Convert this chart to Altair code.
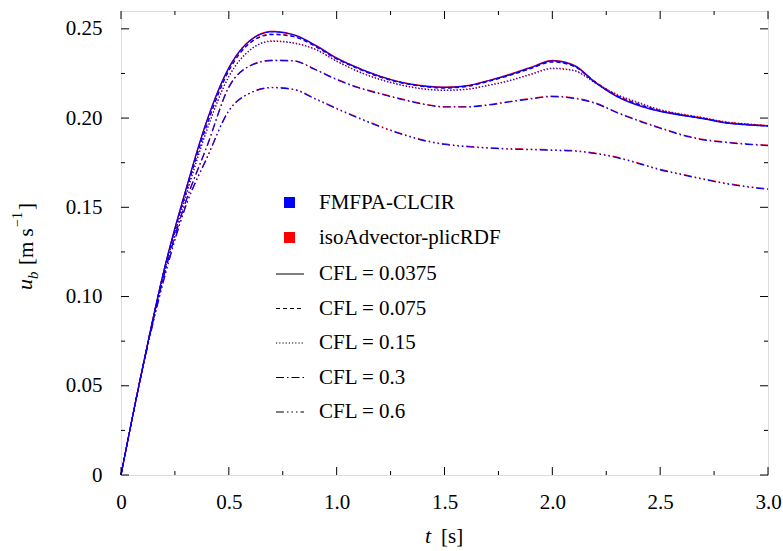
import altair as alt
import pandas as pd

# ---------------- data ----------------
t_vals = [0.0, 0.1, 0.2, 0.3, 0.4, 0.5, 0.6, 0.7, 0.8, 0.9, 1.0,
          1.1, 1.2, 1.3, 1.4, 1.5, 1.6, 1.7, 1.8, 1.9, 2.0,
          2.1, 2.2, 2.3, 2.4, 2.5, 2.6, 2.7, 2.8, 2.9, 3.0]

methods = ["FMFPA-CLCIR", "isoAdvector-plicRDF"]
cfl_labels = ["CFL = 0.0375", "CFL = 0.075", "CFL = 0.15", "CFL = 0.3", "CFL = 0.6"]

fmfpa_0375 = [0, 0.0601, 0.1150, 0.1595, 0.1990, 0.2280, 0.2435, 0.2483, 0.2466, 0.2408, 0.2335,
              0.2280, 0.2234, 0.2200, 0.2180, 0.2172, 0.2180, 0.2208, 0.2242, 0.2282, 0.2320,
              0.2294, 0.2198, 0.2120, 0.2070, 0.2037, 0.2015, 0.1996, 0.1973, 0.1962, 0.1955]
fmfpa_075 = [0, 0.0600, 0.1145, 0.1580, 0.1968, 0.2265, 0.2422, 0.2468, 0.2456, 0.2402, 0.2331,
             0.2276, 0.2230, 0.2197, 0.2177, 0.2168, 0.2176, 0.2204, 0.2238, 0.2277, 0.2314,
             0.2290, 0.2200, 0.2124, 0.2076, 0.2040, 0.2017, 0.1997, 0.1975, 0.1963, 0.1956]
fmfpa_015 = [0, 0.0598, 0.1135, 0.1560, 0.1938, 0.2232, 0.2382, 0.2430, 0.2420, 0.2385, 0.2318,
             0.2260, 0.2216, 0.2184, 0.2163, 0.2155, 0.2160, 0.2182, 0.2208, 0.2244, 0.2277,
             0.2265, 0.2196, 0.2130, 0.2085, 0.2045, 0.2020, 0.2000, 0.1977, 0.1965, 0.1957]
fmfpa_03 = [0, 0.0597, 0.1120, 0.1530, 0.1845, 0.2172, 0.2293, 0.2322, 0.2320, 0.2272, 0.2215,
            0.2170, 0.2136, 0.2105, 0.2078, 0.2062, 0.2062, 0.2072, 0.2090, 0.2107, 0.2120,
            0.2110, 0.2082, 0.2030, 0.1984, 0.1943, 0.1905, 0.1878, 0.1864, 0.1853, 0.1846]
fmfpa_06 = [0, 0.0595, 0.1100, 0.1505, 0.1780, 0.2040, 0.2140, 0.2170, 0.2160, 0.2107, 0.2052,
            0.2000, 0.1952, 0.1910, 0.1875, 0.1852, 0.1840, 0.1832, 0.1826, 0.1823, 0.1819,
            0.1815, 0.1801, 0.1778, 0.1745, 0.1710, 0.1683, 0.1657, 0.1633, 0.1615, 0.1600]

iso_0375 = [0, 0.0602, 0.1152, 0.1597, 0.1993, 0.2283, 0.2437, 0.2486, 0.2468, 0.2410, 0.2338,
            0.2282, 0.2236, 0.2202, 0.2182, 0.2174, 0.2182, 0.2210, 0.2245, 0.2285, 0.2323,
            0.2297, 0.2201, 0.2123, 0.2073, 0.2040, 0.2018, 0.1999, 0.1976, 0.1965, 0.1957]
iso_075 = [0, 0.0601, 0.1147, 0.1582, 0.1970, 0.2267, 0.2424, 0.2471, 0.2458, 0.2404, 0.2333,
           0.2278, 0.2232, 0.2199, 0.2179, 0.2170, 0.2178, 0.2206, 0.2241, 0.2280, 0.2317,
           0.2293, 0.2203, 0.2127, 0.2079, 0.2043, 0.2020, 0.2000, 0.1978, 0.1966, 0.1958]
iso_015 = [0, 0.0599, 0.1137, 0.1562, 0.1940, 0.2234, 0.2384, 0.2433, 0.2422, 0.2387, 0.2320,
           0.2262, 0.2218, 0.2186, 0.2165, 0.2157, 0.2162, 0.2184, 0.2211, 0.2247, 0.2280,
           0.2268, 0.2199, 0.2133, 0.2088, 0.2048, 0.2023, 0.2003, 0.1980, 0.1968, 0.1959]
iso_03 = [0, 0.0598, 0.1122, 0.1532, 0.1848, 0.2175, 0.2295, 0.2325, 0.2322, 0.2274, 0.2218,
          0.2173, 0.2139, 0.2108, 0.2080, 0.2064, 0.2064, 0.2075, 0.2093, 0.2110, 0.2123,
          0.2113, 0.2085, 0.2033, 0.1987, 0.1946, 0.1908, 0.1881, 0.1867, 0.1856, 0.1848]
iso_06 = [0, 0.0596, 0.1102, 0.1507, 0.1783, 0.2042, 0.2142, 0.2172, 0.2162, 0.2110, 0.2055,
          0.2003, 0.1955, 0.1913, 0.1878, 0.1855, 0.1843, 0.1834, 0.1829, 0.1826, 0.1822,
          0.1818, 0.1804, 0.1781, 0.1748, 0.1713, 0.1686, 0.1660, 0.1636, 0.1618, 0.1603]

x_major = [0, 0.5, 1.0, 1.5, 2.0, 2.5, 3.0]
x_minor = [0.25, 0.75, 1.25, 1.75, 2.25, 2.75]
y_major = [0, 0.05, 0.10, 0.15, 0.20, 0.25]
y_minor = [0.025, 0.075, 0.125, 0.175, 0.225]

# ---------------- build table ----------------
series = {
    ("FMFPA-CLCIR", "CFL = 0.0375"): fmfpa_0375,
    ("FMFPA-CLCIR", "CFL = 0.075"): fmfpa_075,
    ("FMFPA-CLCIR", "CFL = 0.15"): fmfpa_015,
    ("FMFPA-CLCIR", "CFL = 0.3"): fmfpa_03,
    ("FMFPA-CLCIR", "CFL = 0.6"): fmfpa_06,
    ("isoAdvector-plicRDF", "CFL = 0.0375"): iso_0375,
    ("isoAdvector-plicRDF", "CFL = 0.075"): iso_075,
    ("isoAdvector-plicRDF", "CFL = 0.15"): iso_015,
    ("isoAdvector-plicRDF", "CFL = 0.3"): iso_03,
    ("isoAdvector-plicRDF", "CFL = 0.6"): iso_06,
}
rows = []
for (m, c), vals in series.items():
    for t, u in zip(t_vals, vals):
        rows.append({"t": t, "u": u, "method": m, "cfl": c})
df = pd.DataFrame(rows)

FONT = "Liberation Serif"
W, H = 647, 464

xscale = alt.Scale(domain=[0, 3.0], nice=False, zero=False)
yscale = alt.Scale(domain=[0, 0.26], nice=False)

color = alt.Color(
    "method:N",
    scale=alt.Scale(domain=methods, range=["#0000ff", "#ff0000"]),
    legend=alt.Legend(
        title=None, orient="none", legendX=158, legendY=181,
        symbolType="square", symbolSize=25, symbolStrokeWidth=6,
        labelFont=FONT, labelFontSize=21, labelColor="black", labelLimit=400,
        labelOffset=19, rowPadding=6, padding=0,
    ),
)
dash = alt.StrokeDash(
    "cfl:N",
    scale=alt.Scale(domain=cfl_labels,
                    range=[[1, 0], [4, 3], [1.2, 2], [8, 3, 1.5, 3],
                           [8, 3, 1.5, 3, 1.5, 3, 1.5, 3]]),
    legend=alt.Legend(
        title=None, orient="none", legendX=154, legendY=248,
        symbolType="stroke", symbolSize=784, symbolStrokeWidth=1.2,
        symbolStrokeColor="black",
        labelFont=FONT, labelFontSize=21, labelColor="black", labelLimit=400,
        labelOffset=14, rowPadding=9.5, padding=0,
    ),
)

xaxis = alt.Axis(values=x_major, ticks=False, domain=False, grid=False, title=None,
                 labelFont=FONT, labelFontSize=21, labelColor="black", labelPadding=16,
                 labelFlush=False,
                 labelExpr="datum.value == 0 ? '0' : format(datum.value, '.1f')")
yaxis = alt.Axis(values=y_major, ticks=False, domain=False, grid=False, title=None,
                 labelFont=FONT, labelFontSize=21, labelColor="black", labelPadding=19,
                 labelFlush=False,
                 labelExpr="datum.value == 0 ? '0' : format(datum.value, '.2f')")

base = alt.Chart(df)
red = base.transform_filter(alt.datum.method == "isoAdvector-plicRDF").mark_line(
    strokeWidth=1.2, interpolate="monotone").encode(
    x=alt.X("t:Q", scale=xscale, axis=xaxis),
    y=alt.Y("u:Q", scale=yscale, axis=yaxis),
    color=color, strokeDash=dash, detail="cfl:N")
blue = base.transform_filter(alt.datum.method == "FMFPA-CLCIR").mark_line(
    strokeWidth=1.2, interpolate="monotone").encode(
    x=alt.X("t:Q", scale=xscale, axis=xaxis),
    y=alt.Y("u:Q", scale=yscale, axis=yaxis),
    color=color, strokeDash=dash, detail="cfl:N")

# inward tick marks on all four sides
def xticks(vals, length):
    d = pd.DataFrame({"t": vals})
    bot = alt.Chart(d).mark_rule(color="black", strokeWidth=1).encode(
        x=alt.X("t:Q", scale=xscale, axis=xaxis), y=alt.value(H), y2=alt.value(H - length))
    top = alt.Chart(d).mark_rule(color="black", strokeWidth=1).encode(
        x=alt.X("t:Q", scale=xscale, axis=xaxis), y=alt.value(0), y2=alt.value(length))
    return [bot, top]

def yticks(vals, length):
    d = pd.DataFrame({"u": vals})
    left = alt.Chart(d).mark_rule(color="black", strokeWidth=1).encode(
        y=alt.Y("u:Q", scale=yscale, axis=yaxis), x=alt.value(0), x2=alt.value(length))
    right = alt.Chart(d).mark_rule(color="black", strokeWidth=1).encode(
        y=alt.Y("u:Q", scale=yscale, axis=yaxis), x=alt.value(W), x2=alt.value(W - length))
    return [left, right]

ticks = xticks(x_major, 8) + xticks(x_minor, 4) + yticks(y_major, 8) + yticks(y_minor, 4)

one = alt.Chart(pd.DataFrame({"a": [0]}))

def vtext(txt, x, y, size, italic=False):
    kw = dict(text=txt, font=FONT, fontSize=size, angle=270, align="left",
              baseline="alphabetic", color="black")
    if italic:
        kw["fontStyle"] = "italic"
    return one.mark_text(**kw).encode(x=alt.value(x), y=alt.value(y))

# y-axis title pieces: u_b [m s^-1]
yt = [
    vtext("u", -89, 279, 22, italic=True),
    vtext("b", -83.5, 268, 15, italic=True),
    vtext("[m s", -88, 254, 21),
    vtext("\u22121", -99, 216, 14),
    vtext("]", -88, 199, 21),
]
# x-axis title pieces: t [s]
xt_t = one.mark_text(text="t", font=FONT, fontStyle="italic", fontSize=22,
                     align="left", baseline="alphabetic", color="black").encode(
    x=alt.value(304), y=alt.value(532))
xt_rest = one.mark_text(text="[s]", font=FONT, fontSize=21,
                        align="left", baseline="alphabetic", color="black").encode(
    x=alt.value(320), y=alt.value(532))

chart = alt.layer(red, blue, *ticks, *yt, xt_t, xt_rest).properties(
    width=W, height=H,
    padding={"left": 121, "top": 11, "right": 15, "bottom": 76},
    autosize=alt.AutoSizeParams(type="none"),
).configure_view(stroke="black", strokeWidth=1.3).configure(background="white")

chart.save("out.html", embed_options={"renderer": "svg", "actions": False})
